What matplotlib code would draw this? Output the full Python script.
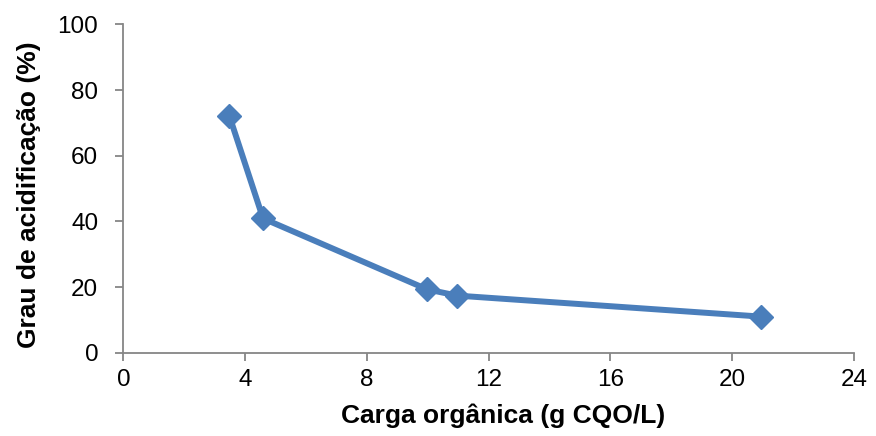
import matplotlib
matplotlib.use("Agg")
import matplotlib.pyplot as plt

# Organic load (g CQO/L) and acidification degree (%)
carga = [3.48, 4.59, 9.98, 10.96, 20.95]
grau = [72.2, 40.9, 19.3, 17.4, 11.0]

x_ticks = [0, 4, 8, 12, 16, 20, 24]
y_ticks = [0, 20, 40, 60, 80, 100]

plt.rcParams['font.family'] = ['Liberation Sans', 'DejaVu Sans']

fig = plt.figure(figsize=(8.76, 4.36), dpi=100)
ax = fig.add_axes([0.1408, 0.191, 0.834, 0.753])

color = '#4A7EBB'
ax.plot(carga, grau, color=color, lw=4.3, marker='D', ms=12,
        markerfacecolor=color, markeredgecolor=color, solid_joinstyle='round')

ax.set_xlim(0, 24)
ax.set_ylim(0, 100)
ax.set_xticks(x_ticks)
ax.set_yticks(y_ticks)

for side in ('top', 'right'):
    ax.spines[side].set_visible(False)
for side in ('left', 'bottom'):
    ax.spines[side].set_color('#868686')
    ax.spines[side].set_linewidth(1.3)

ax.tick_params(axis='both', direction='out', length=6, width=1.3,
               color='#868686', labelsize=17.5, labelcolor='black')
ax.tick_params(axis='y', pad=12)
ax.tick_params(axis='x', pad=6)

ax.set_xlabel('Carga orgânica (g CQO/L)', fontsize=19, fontweight='bold', labelpad=9)
ax.set_ylabel('Grau de acidificação (%)', fontsize=19, fontweight='bold', labelpad=12)
ax.xaxis.label.set_x(0.5205)
ax.yaxis.label.set_y(0.48)

fig.savefig('out.png', dpi=100)
